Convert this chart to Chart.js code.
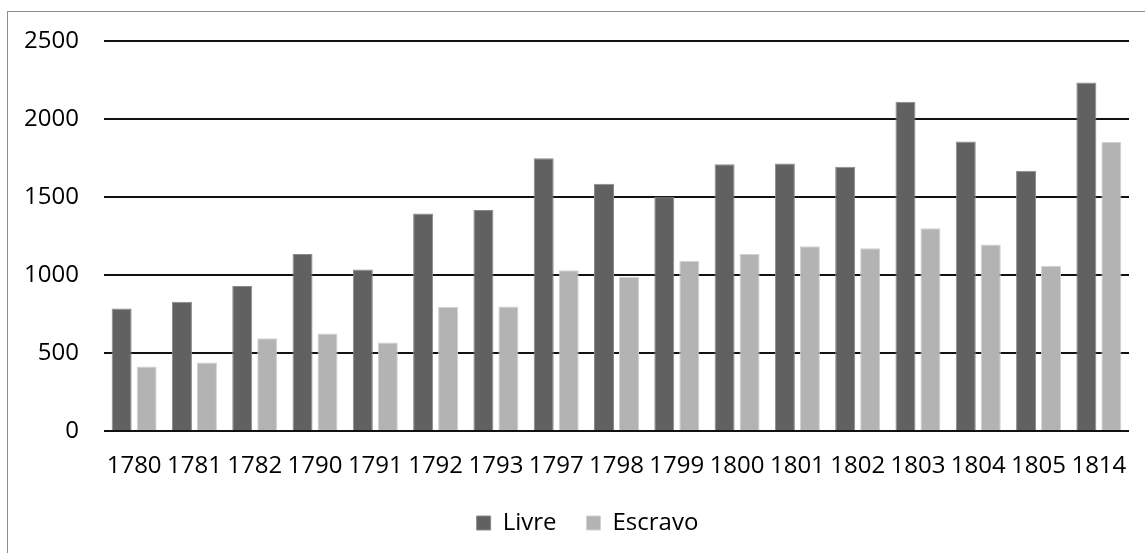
<!DOCTYPE html>
<html>
<head>
<meta charset="utf-8">
<script src="https://cdn.jsdelivr.net/npm/chart.js@4.4.1/dist/chart.umd.min.js"></script>
<style>
  html, body { margin: 0; padding: 0; background: #fff; overflow: hidden; width: 1145px; height: 553px; }
  #frame { position: absolute; left: 7px; top: 11px; width: 1160px; height: 560px; border: 1px solid #8c8c8c; background: #fff; }
  canvas { display: block; }
</style>
</head>
<body>
<div id="frame"><canvas id="c" width="1160" height="560"></canvas></div>
<script>
const categories = ['1780','1781','1782','1790','1791','1792','1793','1797','1798','1799','1800','1801','1802','1803','1804','1805','1814'];
const livre   = [785, 828, 929, 1134, 1036, 1395, 1417, 1748, 1585, 1502, 1710, 1714, 1694, 2110, 1855, 1669, 2234];
const escravo = [413, 439, 595, 625, 567, 796, 798, 1031, 988, 1089, 1134, 1185, 1171, 1299, 1196, 1059, 1853];
const seriesNames = ['Livre', 'Escravo'];
const yTicks = [0, 500, 1000, 1500, 2000, 2500];

const FONT = "'Open Sans', 'Liberation Sans', sans-serif";

// The frame is wider than the visible window, so the legend is centred on the full frame width.
const legendShift = {
  id: 'legendShift',
  afterLayout(chart) {
    const lg = chart.legend;
    if (lg) { lg.left += 19; lg.right += 19; }
  }
};

new Chart(document.getElementById('c'), {
  type: 'bar',
  data: {
    labels: categories,
    datasets: [
      { label: seriesNames[0], data: livre, backgroundColor: '#616161', borderColor: '#8a8a8a', borderWidth: 1 },
      { label: seriesNames[1], data: escravo, backgroundColor: '#b3b3b3', borderColor: '#d2d2d2', borderWidth: 1 }
    ]
  },
  plugins: [legendShift],
  options: {
    responsive: false,
    animation: false,
    devicePixelRatio: 1,
    layout: { padding: { top: 29, left: 0, right: 39, bottom: 27 } },
    datasets: { bar: { categoryPercentage: 0.829, barPercentage: 0.8 } },
    plugins: {
      tooltip: { enabled: false },
      legend: {
        position: 'bottom',
        labels: {
          boxWidth: 14, boxHeight: 14, padding: 30,
          color: '#000',
          font: { family: FONT, size: 24 }
        }
      }
    },
    scales: {
      x: {
        grid: { display: false, drawTicks: false },
        border: { display: false },
        ticks: { color: '#000', padding: 21, maxRotation: 0, autoSkip: false, font: { family: FONT, size: 24 } },
        afterFit: (s) => { s.height = 50; }
      },
      y: {
        min: yTicks[0], max: yTicks[yTicks.length - 1],
        afterBuildTicks: (s) => { s.ticks = yTicks.map(v => ({ value: v })); },
        grid: { color: '#111', lineWidth: 2, drawTicks: false },
        border: { display: false },
        ticks: { color: '#000', padding: 25, font: { family: FONT, size: 24 }, callback: (v) => String(v) },
        afterFit: (s) => { s.width = 96; s.paddingTop = 0; s.paddingBottom = 0; }
      }
    }
  }
});
</script>
</body>
</html>
